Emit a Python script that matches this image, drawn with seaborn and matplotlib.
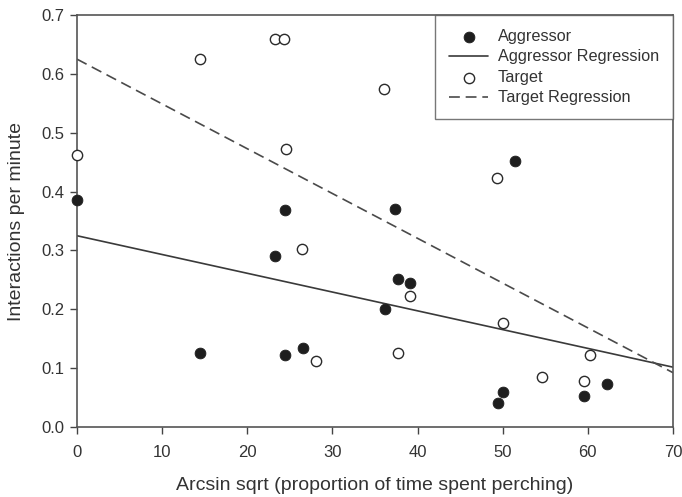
import numpy as np
import pandas as pd
import seaborn as sns
import matplotlib.pyplot as plt

# values
aggr_x = [0.0, 14.4, 23.3, 24.4, 24.4, 26.5, 36.2, 37.4, 37.7, 39.1, 51.4, 49.4, 50.0, 59.5, 62.3]
aggr_y = [0.385, 0.126, 0.290, 0.368, 0.123, 0.134, 0.200, 0.370, 0.251, 0.245, 0.452, 0.040, 0.060, 0.053, 0.073]

targ_x = [0.0, 14.4, 23.3, 24.3, 24.5, 26.4, 28.1, 36.1, 37.7, 39.1, 49.3, 50.0, 54.6, 59.5, 60.3]
targ_y = [0.462, 0.625, 0.659, 0.659, 0.473, 0.303, 0.113, 0.575, 0.126, 0.223, 0.423, 0.177, 0.085, 0.078, 0.123]

# regression lines: intercept, slope
aggr_fit = [0.325, -0.00319]
targ_fit = [0.625, -0.00761]
fit_range = [0, 70]

sns.set_style('ticks')
plt.rcParams['font.family'] = ['Liberation Sans', 'DejaVu Sans']
ink = '#333333'
plt.rcParams['text.color'] = ink
plt.rcParams['axes.labelcolor'] = ink
plt.rcParams['xtick.color'] = ink
plt.rcParams['ytick.color'] = ink

fig = plt.figure(figsize=(6.82, 4.97), dpi=100)
ax = fig.add_axes([0.1129, 0.1408, 0.8739, 0.829])

aggr = pd.DataFrame({'x': aggr_x, 'y': aggr_y})
targ = pd.DataFrame({'x': targ_x, 'y': targ_y})
xs = np.array(fit_range, dtype=float)
aggr_line = pd.DataFrame({'x': xs, 'y': aggr_fit[0] + aggr_fit[1] * xs})
targ_line = pd.DataFrame({'x': xs, 'y': targ_fit[0] + targ_fit[1] * xs})

sns.lineplot(data=aggr_line, x='x', y='y', ax=ax, color='#3a3a3a', lw=1.2,
             label='Aggressor Regression', zorder=2)
sns.lineplot(data=targ_line, x='x', y='y', ax=ax, color='#4a4a4a', lw=1.2,
             dashes=False, label='Target Regression', zorder=2)
ax.lines[-1].set_dashes([6.5, 3.5])
sns.scatterplot(data=aggr, x='x', y='y', ax=ax, color='#1e1e1e', edgecolor='#1e1e1e',
                s=60, label='Aggressor', zorder=3, clip_on=False)
sns.scatterplot(data=targ, x='x', y='y', ax=ax, facecolor='white', edgecolor='#2a2a2a',
                linewidth=1.0, s=55, label='Target', zorder=3, clip_on=False)

ax.set_xlim(0, 70)
ax.set_ylim(0, 0.7)
ax.set_xticks(range(0, 71, 10))
ax.set_yticks(np.arange(0, 0.71, 0.1))
ax.set_yticklabels([f'{v:.1f}' for v in np.arange(0, 0.71, 0.1)])
ax.tick_params(labelsize=12, direction='out', length=5, width=1, color='#444444')
ax.tick_params(axis='x', pad=8)
ax.tick_params(axis='y', pad=4)
for s in ax.spines.values():
    s.set_color('#555555')
    s.set_linewidth(1.2)

ax.set_xlabel('Arcsin sqrt (proportion of time spent perching)', fontsize=14, labelpad=12)
ax.set_ylabel('Interactions per minute', fontsize=14, labelpad=12)

h, l = ax.get_legend_handles_labels()
order = ['Aggressor', 'Aggressor Regression', 'Target', 'Target Regression']
hd = dict(zip(l, h))
leg = ax.legend([hd[k] for k in order], order, loc='upper right', fontsize=11.7,
                frameon=True, fancybox=False, borderaxespad=0, handlelength=2.4,
                borderpad=0.85, labelspacing=0.34, handletextpad=0.6)
leg.get_frame().set_edgecolor('#555555')
leg.get_frame().set_linewidth(1.0)

fig.savefig('out.png', dpi=100)
